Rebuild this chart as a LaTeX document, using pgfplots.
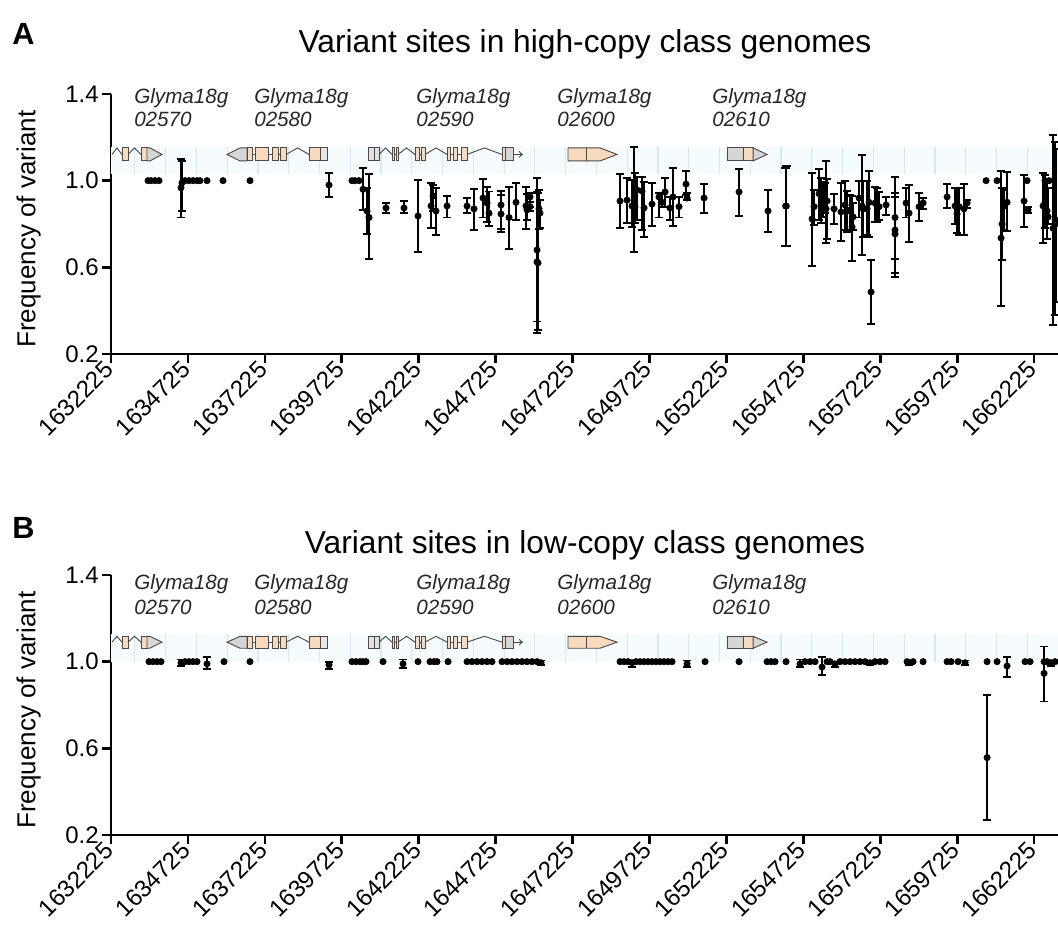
\documentclass[border=0pt]{standalone}
\usepackage{fontspec}
\setmainfont{Liberation Sans}
\usepackage{pgfplots}
\usepackage{pgfplotstable}
\usetikzlibrary{arrows.meta}
\pgfplotsset{compat=1.18}

\definecolor{trackbg}{HTML}{F6FBFD}
\definecolor{trackline}{HTML}{D2EBF2}
\definecolor{exon}{HTML}{F8DBBF}
\definecolor{utr}{HTML}{D6D6D6}
\definecolor{geneline}{HTML}{4A4A4A}

% ---------- high-copy class: sites with error bars (x, mean, upper, lower)
\pgfplotstableread{
x y hi lo
1634500 0.967 1.100 0.830
1634532 0.990 1.090 0.860
1639310 0.980 1.035 0.925
1640415 0.960 1.060 0.865
1640545 0.860 0.966 0.754
1640610 0.830 1.030 0.640
1641162 0.874 0.897 0.850
1641747 0.874 0.906 0.850
1642202 0.837 1.003 0.670
1642625 0.883 0.990 0.780
1642690 0.930 0.980 0.860
1642787 0.860 0.966 0.750
1643145 0.883 0.930 0.830
1643795 0.883 0.920 0.850
1644022 0.870 0.960 0.772
1644315 0.920 1.008 0.830
1644445 0.897 0.970 0.810
1644510 0.850 0.950 0.790
1644900 0.888 0.952 0.777
1644900 0.846 0.934 0.763
1645160 0.830 0.970 0.685
1645387 0.900 0.990 0.820
1645712 0.883 0.970 0.777
1645745 0.865 0.940 0.820
1645842 0.925 0.943 0.880
1645842 0.880 0.900 0.860
1646070 0.680 1.012 0.297
1646070 0.625 0.950 0.350
1646102 0.620 0.943 0.310
1646135 0.870 0.957 0.777
1646167 0.850 0.910 0.780
1648767 0.906 1.030 0.780
1648995 0.910 1.012 0.805
1649157 0.883 1.003 0.786
1649222 0.910 1.155 0.670
1649255 0.880 1.035 0.805
1649320 0.957 1.017 0.820
1649482 0.952 1.017 0.772
1649547 0.874 0.994 0.740
1649807 0.892 0.990 0.790
1650035 0.925 0.943 0.830
1650132 0.900 0.943 0.878
1650230 0.948 1.012 0.880
1650392 0.874 0.925 0.820
1650490 0.925 1.058 0.790
1650685 0.880 0.925 0.830
1650912 0.984 1.045 0.934
1650945 0.920 0.943 0.910
1651497 0.920 0.984 0.850
1652635 0.948 1.053 0.837
1653577 0.860 0.957 0.763
1654150 0.883 1.060 0.700
1654170 0.883 1.068 0.700
1655007 0.823 1.035 0.606
1655072 0.880 0.957 0.795
1655235 0.940 1.053 0.820
1655300 0.883 1.012 0.805
1655365 0.910 0.994 0.833
1655430 0.900 0.990 0.850
1655462 0.870 1.090 0.712
1655495 0.906 1.008 0.730
1655722 0.870 0.940 0.800
1655950 0.856 0.990 0.720
1656080 0.888 0.998 0.772
1656145 0.865 0.952 0.763
1656242 0.860 0.934 0.772
1656307 0.786 0.930 0.630
1656340 0.833 0.897 0.772
1656535 0.920 0.998 0.830
1656632 0.883 1.118 0.657
1656665 0.870 0.998 0.740
1656795 0.870 0.998 0.750
1656860 0.900 1.045 0.740
1656925 0.486 0.634 0.338
1657055 0.897 0.970 0.810
1657120 0.883 0.966 0.810
1657185 0.880 0.948 0.820
1657412 0.888 0.925 0.842
1657705 0.830 1.017 0.555
1657705 0.772 0.943 0.640
1657705 0.754 0.925 0.574
1658062 0.897 0.966 0.830
1658160 0.850 0.980 0.717
1658485 0.880 0.943 0.814
1658615 0.897 0.920 0.870
1659395 0.925 0.984 0.874
1659655 0.883 0.966 0.800
1659720 0.846 0.966 0.758
1659785 0.880 0.966 0.750
1659947 0.870 0.984 0.750
1660045 0.897 0.910 0.874
1661150 0.735 1.045 0.420
1661182 0.800 0.966 0.634
1661247 0.883 0.957 0.772
1661345 0.900 1.040 0.768
1661897 0.906 1.026 0.786
1662027 0.865 0.880 0.850
1662515 0.883 1.035 0.712
1662580 0.900 1.026 0.780
1662645 0.860 0.998 0.730
1662677 0.833 0.966 0.800
1662840 0.780 1.210 0.334
1662905 0.820 1.180 0.380
1662937 0.800 1.145 0.440
}\highErr

% ---------- high-copy class: fixed sites (frequency 1)
\pgfplotstableread{
x y
1633428 1
1633525 1
1633655 1
1633785 1
1634630 1
1634760 1
1634890 1
1635020 1
1635117 1
1635345 1
1635865 1
1636742 1
1640057 1
1640155 1
1640285 1
1660662 1
1661020 1
1661995 1
1662580 1
1662710 1
}\highFix

% ---------- low-copy class: sites with error bars
\pgfplotstableread{
x y hi lo
1634500 0.995 1.010 0.980
1635345 0.990 1.020 0.965
1639310 0.985 1.000 0.965
1641715 0.990 1.010 0.970
1646200 0.995 1.005 0.985
1649157 0.995 1.005 0.975
1650945 0.990 1.005 0.975
1654617 0.990 1.010 0.975
1655332 0.975 1.020 0.940
1655755 0.990 1.000 0.975
1656892 0.995 1.000 0.985
1658160 0.995 1.005 0.985
1659980 0.995 1.005 0.985
1660695 0.557 0.845 0.270
1661345 0.980 1.020 0.930
1662547 0.946 1.070 0.816
1662775 0.995 1.005 0.980
}\lowErr

% ---------- low-copy class: fixed sites
\pgfplotstableread{
x y
1633460 1
1633590 1
1633720 1
1633850 1
1634630 1
1634760 1
1634890 1
1635020 1
1635897 1
1636742 1
1640057 1
1640187 1
1640317 1
1640415 1
1640512 1
1641065 1
1642202 1
1642592 1
1642722 1
1642820 1
1643177 1
1643795 1
1643957 1
1644120 1
1644282 1
1644445 1
1644607 1
1644932 1
1645095 1
1645257 1
1645420 1
1645582 1
1645745 1
1645907 1
1646070 1
1648767 1
1648897 1
1649027 1
1649287 1
1649417 1
1649547 1
1649677 1
1649807 1
1649937 1
1650067 1
1650197 1
1650327 1
1650457 1
1651530 1
1652635 1
1653545 1
1653675 1
1653805 1
1654162 1
1654780 1
1654942 1
1655105 1
1655495 1
1655592 1
1655917 1
1656080 1
1656242 1
1656405 1
1656567 1
1656730 1
1657055 1
1657217 1
1657380 1
1658095 1
1658290 1
1658615 1
1659395 1
1659525 1
1659752 1
1660695 1
1661020 1
1661930 1
1662092 1
1662547 1
1662645 1
1662905 1
}\lowFix

% gene model track: #1 band bottom, #2 band top, #3 box bottom, #4 box middle, #5 box top
\newcommand{\genetrack}[5]{%
  \fill[trackbg] (axis cs:1632225,#1) rectangle (axis cs:1663000,#2);
  \pgfplotsinvokeforeach{1633000,1634000,1635000,1636000,1637000,1638000,1639000,1640000,1641000,1642000,1643000,1644000,1645000,1646000,1647000,1648000,1649000,1650000,1651000,1652000,1653000,1654000,1655000,1656000,1657000,1658000,1659000,1660000,1661000,1662000}{%
    \draw[trackline, line width=0.9pt] (axis cs:##1,#1) -- (axis cs:##1,#2);}
  \begin{scope}[geneline, line width=0.7pt]
  % Glyma18g02570 (forward)
  \draw (axis cs:1632258,#4) -- (axis cs:1632420,#5) -- (axis cs:1632582,#4);
  \filldraw[fill=exon] (axis cs:1632582,#3) rectangle (axis cs:1632777,#5);
  \draw (axis cs:1632777,#4) -- (axis cs:1632990,#5) -- (axis cs:1633200,#4);
  \filldraw[fill=exon] (axis cs:1633200,#3) rectangle (axis cs:1633395,#5);
  \filldraw[fill=utr] (axis cs:1633395,#3) -- (axis cs:1633490,#3) -- (axis cs:1633882,#4) -- (axis cs:1633490,#5) -- (axis cs:1633395,#5) -- cycle;
  % Glyma18g02580 (reverse)
  \draw (axis cs:1636645,#4) -- (axis cs:1637912,#4);
  \filldraw[fill=utr] (axis cs:1636645,#3) -- (axis cs:1636417,#3) -- (axis cs:1635995,#4) -- (axis cs:1636417,#5) -- (axis cs:1636645,#5) -- cycle;
  \filldraw[fill=exon] (axis cs:1636645,#3) rectangle (axis cs:1636807,#5);
  \filldraw[fill=exon] (axis cs:1636905,#3) rectangle (axis cs:1637327,#5);
  \filldraw[fill=exon] (axis cs:1637457,#3) rectangle (axis cs:1637652,#5);
  \filldraw[fill=exon] (axis cs:1637717,#3) rectangle (axis cs:1637912,#5);
  \draw (axis cs:1637912,#4) -- (axis cs:1638290,#5) -- (axis cs:1638660,#4);
  \filldraw[fill=exon] (axis cs:1638660,#3) rectangle (axis cs:1639017,#5);
  \filldraw[fill=utr!60] (axis cs:1639017,#3) rectangle (axis cs:1639245,#5);
  % Glyma18g02590 (forward)
  \filldraw[fill=utr!70] (axis cs:1640577,#3) rectangle (axis cs:1640772,#5);
  \filldraw[fill=utr!70] (axis cs:1640772,#3) rectangle (axis cs:1640935,#5);
  \draw (axis cs:1640935,#4) -- (axis cs:1641150,#5) -- (axis cs:1641357,#4);
  \filldraw[fill=exon] (axis cs:1641357,#3) rectangle (axis cs:1641422,#5);
  \draw (axis cs:1641422,#4) -- (axis cs:1641487,#4);
  \filldraw[fill=exon] (axis cs:1641487,#3) rectangle (axis cs:1641552,#5);
  \draw (axis cs:1641552,#4) -- (axis cs:1641830,#5) -- (axis cs:1642105,#4);
  \filldraw[fill=exon] (axis cs:1642105,#3) rectangle (axis cs:1642235,#5);
  \draw (axis cs:1642235,#4) -- (axis cs:1642300,#4);
  \filldraw[fill=exon] (axis cs:1642300,#3) rectangle (axis cs:1642430,#5);
  \draw (axis cs:1642430,#4) -- (axis cs:1642790,#5) -- (axis cs:1643145,#4);
  \filldraw[fill=exon] (axis cs:1643145,#3) rectangle (axis cs:1643270,#5);
  \draw (axis cs:1643270,#4) -- (axis cs:1643340,#4);
  \filldraw[fill=exon] (axis cs:1643340,#3) rectangle (axis cs:1643470,#5);
  \draw (axis cs:1643470,#4) -- (axis cs:1643600,#4);
  \filldraw[fill=exon] (axis cs:1643600,#3) rectangle (axis cs:1643795,#5);
  \draw (axis cs:1643795,#4) -- (axis cs:1644360,#5) -- (axis cs:1644932,#4);
  \filldraw[fill=exon] (axis cs:1644932,#3) rectangle (axis cs:1645030,#5);
  \filldraw[fill=utr] (axis cs:1645030,#3) rectangle (axis cs:1645290,#5);
  \draw[-{To[length=3pt,width=5pt]}] (axis cs:1645290,#4) -- (axis cs:1645615,#4);
  % Glyma18g02600 (forward)
  \filldraw[fill=exon] (axis cs:1647077,#3) -- (axis cs:1648117,#3) -- (axis cs:1648670,#4) -- (axis cs:1648117,#5) -- (axis cs:1647077,#5) -- cycle;
  \draw (axis cs:1647662,#3) -- (axis cs:1647662,#5);
  % Glyma18g02610 (forward)
  \filldraw[fill=utr] (axis cs:1652245,#3) rectangle (axis cs:1652765,#5);
  \filldraw[fill=exon] (axis cs:1652765,#3) rectangle (axis cs:1653090,#5);
  \filldraw[fill=utr] (axis cs:1653090,#3) -- (axis cs:1653545,#4) -- (axis cs:1653090,#5) -- cycle;
  \end{scope}
}

% gene names: #1 first-line baseline, #2 second-line baseline
\newcommand{\genenames}[2]{%
  \begin{scope}[every node/.style={anchor=base west, inner sep=0pt, font=\itshape\fontsize{15.5}{15.5}\selectfont, text=black!85}]
  \node at (axis cs:1632972,#1) {Glyma18g}; \node at (axis cs:1632972,#2) {02570};
  \node at (axis cs:1636872,#1) {Glyma18g}; \node at (axis cs:1636872,#2) {02580};
  \node at (axis cs:1642137,#1) {Glyma18g}; \node at (axis cs:1642137,#2) {02590};
  \node at (axis cs:1646720,#1) {Glyma18g}; \node at (axis cs:1646720,#2) {02600};
  \node at (axis cs:1651757,#1) {Glyma18g}; \node at (axis cs:1651757,#2) {02610};
  \end{scope}
}

\pgfplotsset{
  panel/.style={
    scale only axis, width=710.25pt, height=195pt, anchor=south west,
    xmin=1632225, xmax=1663000, ymin=0.2, ymax=1.4,
    scaled x ticks=false, scaled y ticks=false,
    axis x line*=bottom, axis y line*=left,
    axis line style={line width=2.2pt, -},
    tick align=outside, major tick length=7pt,
    every tick/.style={black, line width=2pt},
    xtick={1632225,1634725,1637225,1639725,1642225,1644725,1647225,1649725,1652225,1654725,1657225,1659725,1662225},
    xticklabels={1632225,1634725,1637225,1639725,1642225,1644725,1647225,1649725,1652225,1654725,1657225,1659725,1662225},
    ytick={0.2,0.6,1.0,1.4}, yticklabels={0.2,0.6,1.0,1.4},
    tick label style={font=\fontsize{18}{18}\selectfont},
    xticklabel style={rotate=45, anchor=east, inner sep=2pt},
    yticklabel style={inner sep=2pt},
    ylabel={Frequency of variant},
    ylabel style={font=\fontsize{19.5}{19.5}\selectfont, at={(axis description cs:-0.087,0.48)}, anchor=center, rotate=0},
    clip mode=individual,
  },
  fixed/.style={only marks, mark=*, mark size=2.4pt, black},
  witherr/.style={only marks, mark=*, mark size=2.4pt, black,
    error bars/.cd, y dir=both, y explicit,
    error bar style={line width=1.3pt, black},
    error mark options={rotate=90, mark size=3.2pt, line width=1.3pt, black}},
}

\begin{document}
\begin{tikzpicture}
\path[use as bounding box] (0,0) rectangle (793.5pt,696.75pt);

% panel labels and titles
\node[anchor=base west, inner sep=0pt, font=\bfseries\fontsize{23}{23}\selectfont] at (9pt,663pt) {A};
\node[anchor=base, inner sep=0pt, font=\fontsize{23.8}{23.8}\selectfont] at (438.75pt,657pt) {Variant sites in high-copy class genomes};
\node[anchor=base west, inner sep=0pt, font=\bfseries\fontsize{23}{23}\selectfont] at (9pt,292.5pt) {B};
\node[anchor=base, inner sep=0pt, font=\fontsize{23.8}{23.8}\selectfont] at (438.75pt,281.25pt) {Variant sites in low-copy class genomes};

% A: high-copy class
\begin{axis}[panel, at={(83.25pt,431.25pt)}]
  \genetrack{1.031}{1.155}{1.091}{1.121}{1.151}
  \genenames{1.358}{1.248}
  \addplot[fixed] table[x=x, y=y] {\highFix};
  \addplot[witherr] table[x=x, y=y, y error plus expr=\thisrow{hi}-\thisrow{y}, y error minus expr=\thisrow{y}-\thisrow{lo}] {\highErr};
\end{axis}

% B: low-copy class
\begin{axis}[panel, at={(83.25pt,70.5pt)}]
  \genetrack{1.0}{1.127}{1.062}{1.090}{1.117}
  \genenames{1.335}{1.219}
  \addplot[fixed] table[x=x, y=y] {\lowFix};
  \addplot[witherr] table[x=x, y=y, y error plus expr=\thisrow{hi}-\thisrow{y}, y error minus expr=\thisrow{y}-\thisrow{lo}] {\lowErr};
\end{axis}
\end{tikzpicture}
\end{document}
